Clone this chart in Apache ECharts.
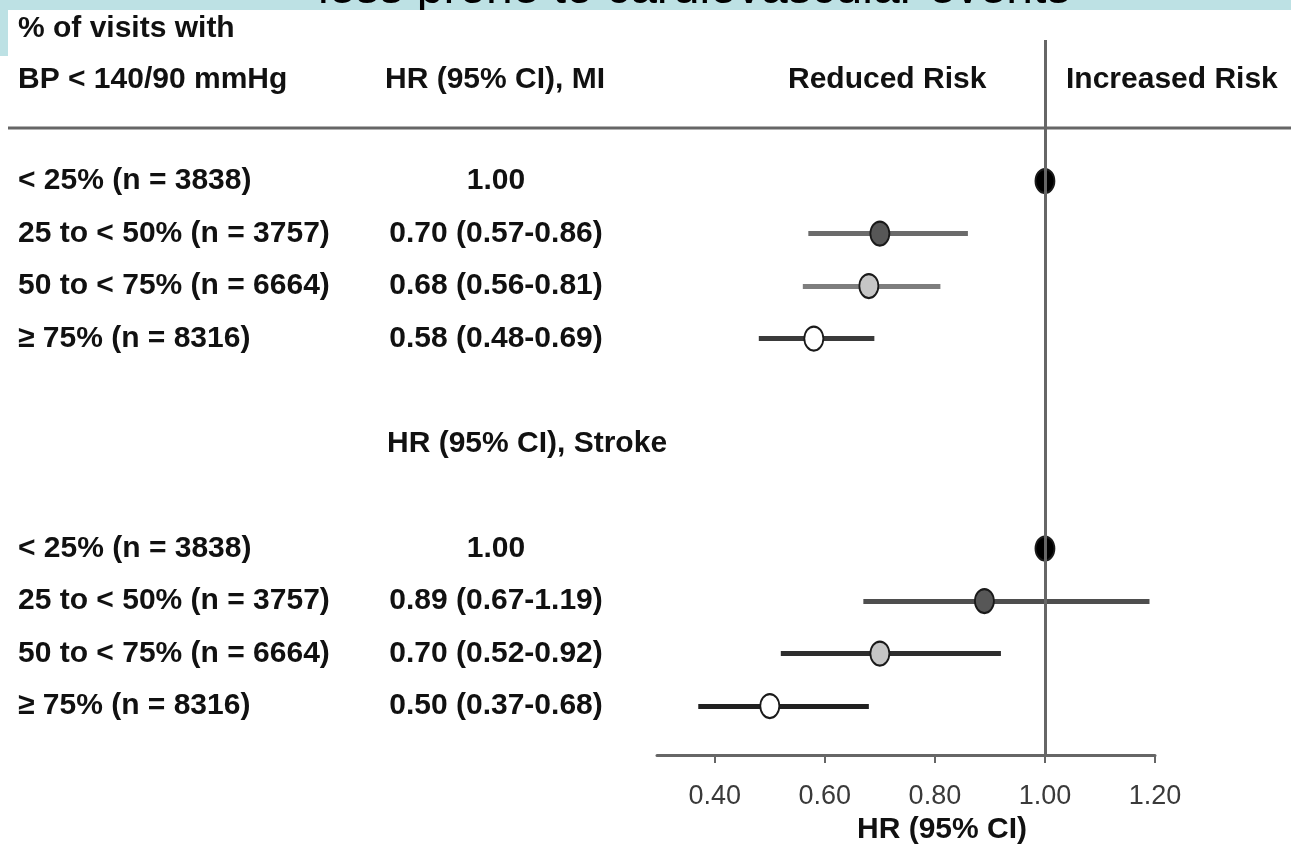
<!DOCTYPE html>
<html>
<head>
<meta charset="utf-8">
<script src="https://cdn.jsdelivr.net/npm/echarts@6/dist/echarts.min.js"></script>
<style>
  html, body { margin: 0; padding: 0; background: #ffffff; }
  #chart { width: 1291px; height: 854px; }
</style>
</head>
<body>
<div id="chart"></div>
<script>
// ---- data ----
const groupLabels = ['< 25% (n = 3838)', '25 to < 50% (n = 3757)', '50 to < 75% (n = 6664)', '\u2265 75% (n = 8316)'];
const miHR = [1.00, 0.70, 0.68, 0.58];
const miLo = [null, 0.57, 0.56, 0.48];
const miHi = [null, 0.86, 0.81, 0.69];
const strokeHR = [1.00, 0.89, 0.70, 0.50];
const strokeLo = [null, 0.67, 0.52, 0.37];
const strokeHi = [null, 1.19, 0.92, 0.68];
const miRows = [0, 1, 2, 3];
const strokeRows = [7, 8, 9, 10];
const strokeHeaderRow = 5;
const strokeHeader = 'HR (95% CI), Stroke';
const xTicks = [0.40, 0.60, 0.80, 1.00, 1.20];
const headerTexts = ['% of visits with', 'BP < 140/90 mmHg', 'HR (95% CI), MI', 'Reduced Risk', 'Increased Risk'];
const axisTitle = 'HR (95% CI)';
const slideTitle = 'less prone to cardiovascular events';

// ---- styles ----
const dotFill = ['#000000', '#575757', '#c6c6c6', '#ffffff'];
const miLineColor = [null, '#6b6b6b', '#7e7e7e', '#3a3a3a'];
const strokeLineColor = [null, '#4e4e4e', '#2e2e2e', '#202020'];
const FONT = 'Liberation Sans, Arial, sans-serif';
const FS = 30;

function hrText(hr, lo, hi) {
  return lo == null ? hr.toFixed(2) : hr.toFixed(2) + ' (' + lo.toFixed(2) + '-' + hi.toFixed(2) + ')';
}

const rowText = {};
miRows.forEach((r, i) => { rowText[r] = '{a|' + groupLabels[i] + '}{b|' + hrText(miHR[i], miLo[i], miHi[i]) + '}'; });
strokeRows.forEach((r, i) => { rowText[r] = '{a|' + groupLabels[i] + '}{b|' + hrText(strokeHR[i], strokeLo[i], strokeHi[i]) + '}'; });
rowText[strokeHeaderRow] = '{a| }{c|' + strokeHeader + '}';
const labelRows = Object.keys(rowText).map(Number).sort((a, b) => a - b);

const ciData = [];
const dotData = [];
function addGroup(rows, hr, lo, hi, lineColors) {
  rows.forEach((r, i) => {
    if (lo[i] != null) {
      ciData.push({ coords: [[lo[i], r], [hi[i], r]], lineStyle: { color: lineColors[i] } });
    }
    dotData.push({ value: [hr[i], r], itemStyle: { color: dotFill[i] } });
  });
}
addGroup(miRows, miHR, miLo, miHi, miLineColor);
addGroup(strokeRows, strokeHR, strokeLo, strokeHi, strokeLineColor);

const txt = (x, y, text, extra) => Object.assign({
  type: 'text', x: x, y: y, z: 10,
  style: Object.assign({ text: text, font: 'bold ' + FS + 'px ' + FONT, fill: '#111', verticalAlign: 'middle', align: 'left' }, extra || {})
});

const richBase = { fontFamily: FONT, fontWeight: 'bold', fontSize: FS, color: '#111' };

const chart = echarts.init(document.getElementById('chart'), null, { renderer: 'canvas' });
chart.setOption({
  backgroundColor: '#ffffff',
  animation: false,
  grid: { left: 657, right: 136, top: 40, bottom: 99, containLabel: false },
  xAxis: {
    type: 'value', min: 0.295, max: 1.2,
    axisLine: { show: true, onZero: false, lineStyle: { color: '#666', width: 3 } },
    axisTick: { show: true, customValues: xTicks, length: 8, lineStyle: { color: '#666', width: 2 } },
    axisLabel: { customValues: xTicks, formatter: v => v.toFixed(2), fontFamily: FONT, fontSize: 27, color: '#3a3a3a', margin: 28 },
    splitLine: { show: false }
  },
  yAxis: {
    type: 'value', inverse: true, min: -2.686, max: 10.933,
    axisLine: { show: false }, axisTick: { show: false }, splitLine: { show: false },
    axisLabel: {
      customValues: labelRows,
      align: 'left', margin: 639,
      formatter: v => rowText[v] || '',
      rich: {
        a: Object.assign({ width: 369, align: 'left' }, richBase),
        b: Object.assign({ width: 218, align: 'center' }, richBase),
        c: Object.assign({ width: 300, align: 'left' }, richBase)
      }
    }
  },
  graphic: [
    { type: 'text', x: 318, y: -10, z: 1, style: { text: slideTitle, font: '48px ' + FONT, fill: '#000', verticalAlign: 'middle' } },
    { type: 'rect', z: 0, shape: { x: 0, y: 0, width: 1291, height: 10 }, style: { fill: '#bde1e4' } },
    { type: 'rect', z: 0, shape: { x: 0, y: 0, width: 8, height: 56 }, style: { fill: '#bde1e4' } },
    { type: 'rect', z: 2, shape: { x: 8, y: 10, width: 1283, height: 8 }, style: { fill: '#ffffff' } },
    txt(18, 29, headerTexts[0]),
    txt(18, 80, headerTexts[1]),
    txt(385, 80, headerTexts[2]),
    txt(788, 80, headerTexts[3]),
    txt(1066, 80, headerTexts[4]),
    { type: 'line', z: 3, shape: { x1: 8, y1: 128, x2: 1291, y2: 128 }, style: { stroke: '#666', lineWidth: 3 } },
    txt(942, 830, axisTitle, { align: 'center' })
  ],
  series: [
    {
      type: 'lines', coordinateSystem: 'cartesian2d', polyline: false, silent: true, z: 2,
      lineStyle: { width: 5, opacity: 1 },
      data: ciData
    },
    {
      type: 'scatter', z: 3, symbol: 'circle', symbolSize: [19, 24], silent: true,
      itemStyle: { borderColor: '#1a1a1a', borderWidth: 2, opacity: 1 },
      data: dotData,
      markLine: {
        silent: true, symbol: 'none', label: { show: false },
        lineStyle: { color: '#666', width: 3, type: 'solid' },
        data: [{ xAxis: 1 }]
      }
    }
  ]
});
</script>
</body>
</html>
